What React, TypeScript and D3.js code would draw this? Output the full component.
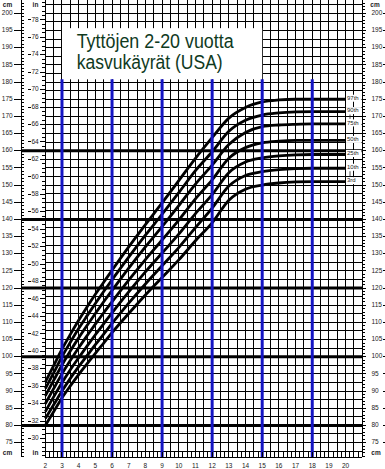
import * as d3 from "d3"

// ages (years) where the percentile curves are read
const ages = [2, 2.5, 3, 3.5, 4, 4.5, 5, 5.5, 6, 7, 8, 9, 10, 11, 12, 13, 14, 15, 16, 17, 18, 19, 20]

// stature (cm) per percentile
const p97 = [92.6, 97.4, 102.2, 106.5, 110.6, 114.5, 118.2, 121.7, 125.2, 132.0, 138.5, 144.8, 151.3, 157.8, 163.8, 169.5, 172.6, 174.2, 174.8, 175.0, 175.0, 175.0, 175.0]
const p90 = [90.7, 95.3, 100.0, 104.2, 108.2, 111.9, 115.5, 119.0, 122.4, 129.0, 135.4, 141.5, 147.8, 154.2, 159.7, 165.7, 168.9, 170.4, 171.0, 171.3, 171.4, 171.4, 171.4]
const p75 = [88.6, 93.1, 97.6, 101.7, 105.5, 109.1, 112.6, 116.0, 119.3, 125.8, 132.0, 137.9, 144.0, 150.3, 155.8, 161.8, 165.3, 167.0, 167.5, 167.7, 167.8, 167.8, 167.8]
const p50 = [86.3, 90.7, 95.0, 98.9, 102.6, 106.1, 109.5, 112.8, 116.0, 122.3, 128.3, 134.0, 139.8, 146.0, 151.5, 157.8, 160.9, 162.3, 162.8, 163.0, 163.0, 163.0, 163.0]
const p25 = [84.0, 88.3, 92.4, 96.2, 99.7, 103.1, 106.4, 109.6, 112.8, 118.9, 124.7, 130.2, 135.7, 141.7, 147.2, 153.6, 156.7, 157.9, 158.5, 158.8, 158.9, 158.9, 158.9]
const p10 = [82.0, 86.0, 90.0, 93.7, 97.1, 100.3, 103.5, 106.6, 109.7, 115.6, 121.2, 126.5, 131.8, 137.6, 143.3, 149.7, 152.8, 153.9, 154.5, 154.8, 154.9, 154.9, 154.9]
const p3 = [80.0, 84.0, 88.0, 91.5, 94.8, 97.9, 101.0, 104.0, 107.0, 112.6, 118.0, 123.1, 128.2, 133.8, 139.0, 145.6, 148.8, 150.0, 150.6, 150.9, 151.0, 151.0, 151.0]

const series = [p97, p90, p75, p50, p25, p10, p3]
const seriesLabels = ["97th", "90th", "75th", "50th", "25th", "10th", "3rd"]

const ageLabels = d3.range(2, 21)
const cmLabels = d3.range(75, 201, 5)
const inLabels = d3.range(30, 79, 2)
const thickCm = [80, 100, 120, 140, 160]
const blueAges = [3, 6, 9, 12, 15, 18]
const titleLines = ["Tyttöjen 2-20 vuotta", "kasvukäyrät (USA)"]

const W = 385
const H = 469
const FONT = "'Liberation Sans', Arial, Helvetica, sans-serif"

export default function App() {
  const x = d3.scaleLinear().domain([2, 21]).range([45.3, 362.3])
  const y = d3.scaleLinear().domain([70.8, 203.9]).range([457, 0])
  const yIn = (inch: number) => y(inch * 2.54)

  const xL = x(2)
  const xR = x(21)
  const yB = y(70.8)
  const cmAxisX = 21

  const line = d3
    .line<number>()
    .x((_, i) => x(ages[i]))
    .y((d) => y(d))
    .curve(d3.curveMonotoneX)

  const vGrid = d3.range(2, 21.01, 0.5)
  const hGrid = d3.range(72.5, 203, 2.5)
  const cmMinor = d3.range(71, 204)
  const inMinor = d3.range(28, 80.1, 0.5)
  const quarter = d3.range(2, 21.01, 0.25)

  const labelY = series.map((s) => y(s[s.length - 1]) - 1)
  const small = 6.5

  return (
    <svg
      width={W}
      height={H}
      style={{ position: "absolute", left: 0, top: 0, background: "#fff" }}
      fontFamily={FONT}
    >
      <rect width={W} height={H} fill="#fff" />

      {/* grid */}
      <g stroke="#000" strokeWidth={1} shapeRendering="crispEdges">
        {vGrid.map((a) => (
          <line key={"v" + a} x1={x(a)} x2={x(a)} y1={0} y2={yB} />
        ))}
        {hGrid.map((c) => (
          <line key={"h" + c} x1={xL} x2={xR} y1={y(c)} y2={y(c)} />
        ))}
      </g>

      {/* title box */}
      <rect x={x(3)} y={y(195.7)} width={x(15) - x(3)} height={y(180.8) - y(195.7)} fill="#fff" />
      {titleLines.map((t, i) => (
        <text
          key={t}
          x={76.7}
          y={48.3 + i * 21}
          fontSize={20}
          fill="#0f3a1e"
          textLength={i === 0 ? 157 : 146}
          lengthAdjust="spacingAndGlyphs"
        >
          {t}
        </text>
      ))}

      {/* thick reference lines */}
      {thickCm.map((c) => (
        <line key={"t" + c} x1={cmAxisX} x2={xR} y1={y(c)} y2={y(c)} stroke="#000" strokeWidth={3} />
      ))}

      {/* percentile curves */}
      {series.map((s, i) => (
        <path key={seriesLabels[i]} d={line(s) || ""} fill="none" stroke="#000" strokeWidth={2.8} />
      ))}

      {/* blue age lines */}
      {blueAges.map((a) => (
        <line key={"b" + a} x1={x(a)} x2={x(a)} y1={y(180.8)} y2={yB} stroke="#1414c4" strokeWidth={3} />
      ))}

      {/* percentile labels */}
      {seriesLabels.map((l, i) => (
        <g key={"l" + l}>
          <rect x={346} y={labelY[i] - 3.5} width={15.5} height={7} fill="#fff" />
          <text x={347} y={labelY[i]} fontSize={6} dominantBaseline="middle" fill="#222">
            {l}
          </text>
        </g>
      ))}
      {[
        [1, 2],
        [5, 6],
      ].map(([a, b]) => (
        <line
          key={"m" + a}
          x1={350}
          x2={350}
          y1={labelY[a] + 4}
          y2={labelY[b] - 4}
          stroke="#222"
          strokeWidth={0.8}
        />
      ))}

      {/* left cm axis */}
      <g stroke="#000" strokeWidth={1} shapeRendering="crispEdges">
        <line x1={cmAxisX} x2={cmAxisX} y1={0} y2={yB} />
        {cmMinor.map((c) => (
          <line key={"cm" + c} x1={cmAxisX} x2={cmAxisX + 2.5} y1={y(c)} y2={y(c)} />
        ))}
        {cmLabels.map((c) => (
          <line key={"cM" + c} x1={14} x2={cmAxisX} y1={y(c)} y2={y(c)} />
        ))}
        {/* inch axis */}
        {inMinor.map((v) => (
          <line key={"im" + v} x1={xL - 3} x2={xL} y1={yIn(v)} y2={yIn(v)} />
        ))}
        {inLabels.map((v) => (
          <g key={"iM" + v}>
            <line x1={28} x2={30.5} y1={yIn(v)} y2={yIn(v)} />
            <line x1={39.5} x2={xL} y1={yIn(v)} y2={yIn(v)} />
          </g>
        ))}
        {/* right cm axis */}
        <line x1={xR} x2={xR} y1={0} y2={yB} />
        {cmMinor.map((c) => (
          <line key={"rm" + c} x1={xR} x2={xR + (c % 5 === 0 ? 4 : 2.5)} y1={y(c)} y2={y(c)} />
        ))}
        {cmLabels.map((c) => (
          <line key={"rd" + c} x1={383} x2={385} y1={y(c)} y2={y(c)} />
        ))}
        {/* bottom axis */}
        <line x1={xL} x2={xR} y1={yB} y2={yB} />
        {quarter.map((a) => (
          <line key={"q" + a} x1={x(a)} x2={x(a)} y1={yB - 5} y2={yB} />
        ))}
      </g>

      <g fontSize={small} fill="#222">
        {cmLabels.map((c) => (
          <text key={"lc" + c} x={12.7} y={y(c)} textAnchor="end" dominantBaseline="middle">
            {c}
          </text>
        ))}
        {inLabels.map((v) => (
          <text key={"li" + v} x={35} y={yIn(v)} textAnchor="middle" dominantBaseline="middle">
            {v}
          </text>
        ))}
        {cmLabels.map((c) => (
          <text key={"rc" + c} x={371.5} y={y(c)} dominantBaseline="middle">
            {c}
          </text>
        ))}
        {ageLabels.map((a) => (
          <text key={"ax" + a} x={x(a)} y={466} textAnchor="middle" dominantBaseline="middle">
            {a}
          </text>
        ))}
        <text x={7.5} y={5} textAnchor="middle" dominantBaseline="middle" fontWeight="bold">cm</text>
        <text x={35.5} y={5} textAnchor="middle" dominantBaseline="middle" fontWeight="bold">in</text>
        <text x={7.5} y={453} textAnchor="middle" dominantBaseline="middle" fontWeight="bold">cm</text>
        <text x={35.5} y={453} textAnchor="middle" dominantBaseline="middle" fontWeight="bold">in</text>
        <text x={375} y={5} textAnchor="middle" dominantBaseline="middle" fontWeight="bold">cm</text>
        <text x={376} y={453} textAnchor="middle" dominantBaseline="middle" fontWeight="bold">cm</text>
      </g>
    </svg>
  )
}
